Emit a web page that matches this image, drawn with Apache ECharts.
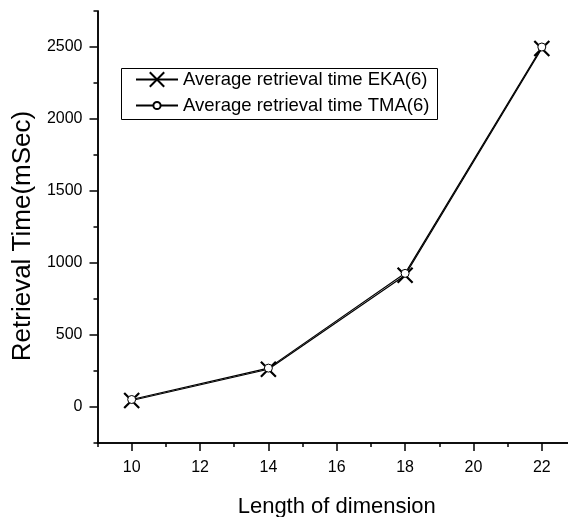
<!DOCTYPE html>
<html>
<head>
<meta charset="utf-8">
<script src="https://cdn.jsdelivr.net/npm/echarts@6/dist/echarts.min.js"></script>
<style>
html,body{margin:0;padding:0;background:#fff;}
#chart{width:568px;height:517px;}
</style>
</head>
<body>
<div id="chart"></div>
<script>
const xValues = [10, 14, 18, 22];
const ekaValues = [45, 262, 915, 2490];
const tmaValues = [52, 270, 928, 2500];
const xMajorTicks = [10, 12, 14, 16, 18, 20, 22];
const xMinorTicks = [9, 11, 13, 15, 17, 19, 21, 23];
const yMajorTicks = [0, 500, 1000, 1500, 2000, 2500];
const yMinorTicks = [-250, 250, 750, 1250, 1750, 2250, 2750];
const seriesNames = ['Average retrieval time EKA(6)', 'Average retrieval time TMA(6)'];
const xTitle = 'Length of dimension';
const yTitle = 'Retrieval Time(mSec)';

const FONT = '"Liberation Sans", Arial, sans-serif';
const chart = echarts.init(document.getElementById('chart'), null, {renderer: 'canvas'});
const axisLine = {show: true, onZero: false, lineStyle: {color: '#000', width: 1.5}};
const legendCommon = {
  orient: 'vertical', left: 135,
  padding: 0, itemWidth: 42, itemGap: 0,
  textStyle: {fontSize: 18.5, color: '#000', fontFamily: FONT}
};

const option = {
  animation: false,
  backgroundColor: '#fff',
  textStyle: {fontFamily: FONT},
  grid: {left: 97.5, top: 11, width: 478.5, height: 432, containLabel: false, outerBoundsMode: 'none'},
  graphic: [{
    type: 'rect', left: 119, top: 66,
    shape: {width: 316, height: 51},
    style: {fill: 'none', stroke: '#000', lineWidth: 1}, z: 100
  }],
  legend: [
    Object.assign({}, legendCommon, {top: 70, itemHeight: 18, data: [seriesNames[0]]}),
    Object.assign({}, legendCommon, {top: 96, itemHeight: 9, data: [seriesNames[1]]})
  ],
  xAxis: [
    {
      type: 'value', min: 9, max: 23, position: 'bottom',
      axisLine: axisLine,
      axisTick: {show: true, customValues: xMinorTicks, length: 4, lineStyle: {color: '#000', width: 1.5}},
      axisLabel: {show: false},
      splitLine: {show: false}
    },
    {
      type: 'value', min: 9, max: 23, position: 'bottom',
      axisLine: axisLine,
      axisTick: {show: true, customValues: xMajorTicks, length: 8, lineStyle: {color: '#000', width: 1.5}},
      axisLabel: {show: true, customValues: xMajorTicks, fontSize: 16, color: '#000', margin: 17, fontFamily: FONT},
      splitLine: {show: false},
      name: xTitle, nameLocation: 'middle', nameGap: 53,
      nameTextStyle: {fontSize: 22, color: '#000', fontFamily: FONT}
    }
  ],
  yAxis: [
    {
      type: 'value', min: -250, max: 2750, position: 'left',
      axisLine: axisLine,
      axisTick: {show: true, customValues: yMinorTicks, length: 4, lineStyle: {color: '#000', width: 1.5}},
      axisLabel: {show: false},
      splitLine: {show: false}
    },
    {
      type: 'value', min: -250, max: 2750, position: 'left',
      axisLine: axisLine,
      axisTick: {show: true, customValues: yMajorTicks, length: 8, lineStyle: {color: '#000', width: 1.5}},
      axisLabel: {show: true, customValues: yMajorTicks, fontSize: 16, color: '#000', margin: 15, fontFamily: FONT,
                  formatter: v => String(v)},
      splitLine: {show: false},
      name: yTitle, nameLocation: 'middle', nameGap: 62, nameRotate: 90,
      nameTextStyle: {fontSize: 26, color: '#000', fontFamily: FONT, padding: [0, 18, 0, 0]}
    }
  ],
  series: [
    {
      name: seriesNames[0], type: 'line',
      xAxisIndex: 0, yAxisIndex: 0,
      data: xValues.map((x, i) => [x, ekaValues[i]]),
      symbol: 'path://M0,0L10,10M10,0L0,10',
      symbolSize: 15,
      lineStyle: {color: '#000', width: 1.2},
      itemStyle: {color: 'rgba(0,0,0,0)', borderColor: '#000', borderWidth: 2.2},
      z: 2
    },
    {
      name: seriesNames[1], type: 'line',
      xAxisIndex: 0, yAxisIndex: 0,
      data: xValues.map((x, i) => [x, tmaValues[i]]),
      symbol: 'circle', symbolSize: 8,
      lineStyle: {color: '#000', width: 1.2},
      itemStyle: {color: '#fff', borderColor: '#000', borderWidth: 1},
      z: 3
    }
  ]
};
chart.setOption(option);
</script>
</body>
</html>
